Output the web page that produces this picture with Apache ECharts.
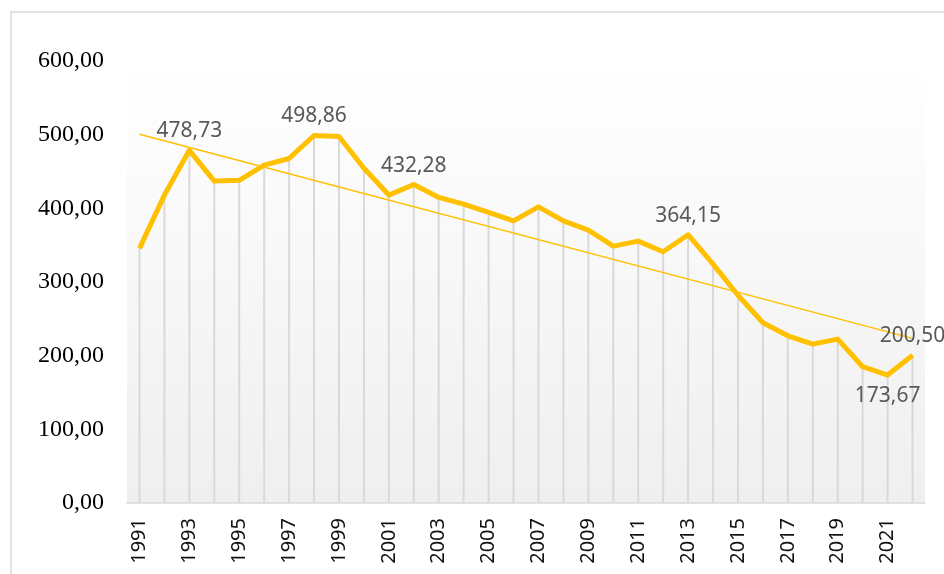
<!DOCTYPE html>
<html>
<head>
<meta charset="utf-8">
<script src="https://cdn.jsdelivr.net/npm/echarts@6/dist/echarts.min.js"></script>
<style>
  html, body { margin: 0; padding: 0; background: #fff; }
  #chart { width: 944px; height: 574px; }
</style>
</head>
<body>
<div id="chart"></div>
<script>
// years on the x axis
var years = ['1991','1992','1993','1994','1995','1996','1997','1998','1999','2000',
             '2001','2002','2003','2004','2005','2006','2007','2008','2009','2010',
             '2011','2012','2013','2014','2015','2016','2017','2018','2019','2020',
             '2021','2022'];
// values
var values = [345.6, 418.0, 478.73, 437.0, 438.0, 458.6, 467.7, 498.86, 497.5, 454.5,
              418.0, 432.28, 414.8, 405.7, 394.4, 383.0, 402.0, 383.0, 370.4, 348.7,
              355.5, 341.0, 364.15, 324.3, 282.0, 244.7, 227.0, 215.7, 222.5, 185.0,
              173.67, 200.50];
// linear trend, ends
var trendStart = 500.7;
var trendEnd = 223.5;
// points that carry a value label
var labelAbove = ['1993', '1998', '2002', '2013', '2022'];
var labelBelow = ['2021'];
var yTicks = [0, 100, 200, 300, 400, 500, 600];

function fmt(v) {
    return v.toFixed(2).replace('.', ',');
}

var lineData = values.map(function (v, i) {
    var y = years[i];
    var item = { value: v };
    if (labelAbove.indexOf(y) >= 0) {
        item.label = { show: true, position: 'top', distance: 8 };
    } else if (labelBelow.indexOf(y) >= 0) {
        item.label = { show: true, position: 'bottom', distance: 10 };
    }
    return item;
});

var trendData = years.map(function (y, i) {
    if (i === 0) return trendStart;
    if (i === years.length - 1) return trendEnd;
    return null;
});

var myChart = echarts.init(document.getElementById('chart'));
var option = {
    animation: false,
    backgroundColor: '#fff',
    graphic: [{
        type: 'rect',
        shape: { x: 11, y: 12, width: 950, height: 600 },
        style: { fill: 'none', stroke: '#d9d9d9', lineWidth: 1.5 },
        silent: true
    }],
    grid: {
        left: 127, right: 19, top: 61, bottom: 71,
        show: true,
        borderWidth: 0,
        backgroundColor: {
            type: 'linear', x: 0, y: 0, x2: 0, y2: 1,
            colorStops: [
                { offset: 0, color: '#ffffff' },
                { offset: 1, color: '#efefef' }
            ]
        }
    },
    xAxis: {
        type: 'category',
        data: years,
        boundaryGap: true,
        axisLine: { lineStyle: { color: '#d9d9d9', width: 1.5 } },
        axisTick: { show: false },
        axisLabel: {
            interval: 1,
            rotate: 90,
            margin: 15,
            color: '#111',
            fontFamily: 'Noto Sans',
            fontSize: 20
        },
        splitLine: { show: false }
    },
    yAxis: {
        type: 'value',
        min: yTicks[0],
        max: yTicks[yTicks.length - 1],
        interval: 100,
        axisLine: { show: false },
        axisTick: { show: false },
        splitLine: { show: false },
        axisLabel: {
            margin: 23,
            color: '#000',
            fontFamily: 'Liberation Serif',
            fontSize: 24,
            formatter: function (v) { return fmt(v); }
        }
    },
    series: [
        {
            // drop lines from each point to the axis
            type: 'bar',
            data: values,
            barWidth: 2,
            itemStyle: { color: '#d9d9d9' },
            silent: true,
            z: 1
        },
        {
            type: 'line',
            data: trendData,
            connectNulls: true,
            symbol: 'none',
            lineStyle: { color: '#ffc000', width: 1.5 },
            silent: true,
            z: 2
        },
        {
            type: 'line',
            data: lineData,
            symbol: 'circle',
            symbolSize: 1,
            showSymbol: true,
            itemStyle: { color: '#ffc000' },
            lineStyle: { color: '#ffc000', width: 5, join: 'round' },
            label: {
                show: false,
                color: '#595959',
                fontFamily: 'Noto Sans',
                fontSize: 21,
                formatter: function (p) { return fmt(p.value); }
            },
            z: 3
        }
    ]
};
myChart.setOption(option);
</script>
</body>
</html>
